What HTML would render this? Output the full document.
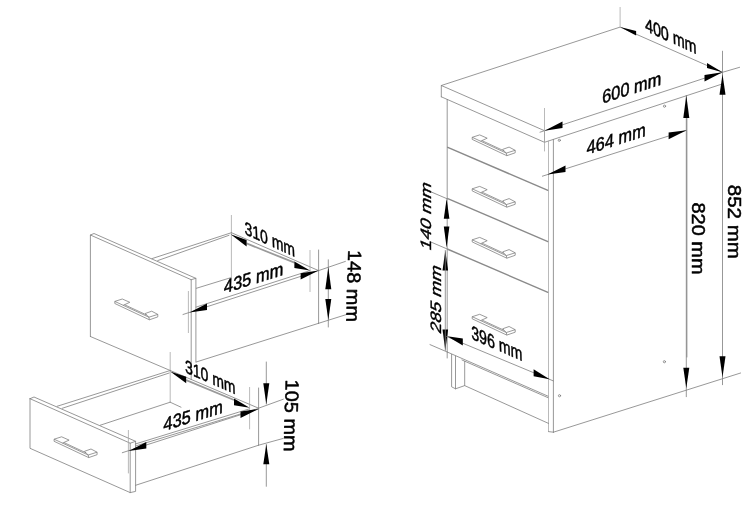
<!DOCTYPE html>
<html lang="en"><head><meta charset="utf-8"><title>Cabinet dimensions</title>
<style>
html,body{margin:0;padding:0;background:#fff;}
body{width:750px;height:513px;overflow:hidden;}
svg{display:block;will-change:transform}
.l{stroke:#7e7e7e;stroke-width:.8;fill:none;stroke-linecap:round;stroke-linejoin:round}
.b{stroke:#9a9a9a;stroke-width:1.8;fill:none}
.g{stroke:#a8a8a8;stroke-width:.8;fill:none}
.d{stroke:#8a8a8a;stroke-width:1.4;fill:none}
.h{stroke:#7a7a7a;stroke-width:.75;fill:none;stroke-linejoin:round}
.a{fill:#000;stroke:none}
text{font-family:"Liberation Sans",Arial,sans-serif;fill:#000;text-anchor:middle;stroke:#000;stroke-width:.5;stroke-linejoin:round}
</style></head><body>
<svg width="750" height="513" viewBox="0 0 750 513">
<rect width="750" height="513" fill="#fff"/>
<polyline class="l" points="90.4,336.5 90.4,235.0 191.2,279.7 191.2,379.5"/>
<polyline class="l" points="90.4,235.0 94.0,233.5 195.8,278.3 191.2,279.7"/>
<line class="l" x1="195.9" y1="278.3" x2="195.9" y2="362.0"/>
<line class="l" x1="90.4" y1="336.5" x2="170.2" y2="370.5"/>
<line class="g" x1="188.4" y1="291.0" x2="188.4" y2="333.0"/>
<line class="l" x1="152.0" y1="258.6" x2="231.4" y2="232.7"/>
<line class="l" x1="157.7" y1="260.6" x2="229.0" y2="235.3"/>
<line class="l" x1="196.3" y1="288.3" x2="231.4" y2="277.5"/>
<line class="g" x1="231.4" y1="215.0" x2="231.4" y2="277.5"/>
<line class="l" x1="231.4" y1="232.7" x2="318.6" y2="270.6"/>
<line class="b" x1="246.6" y1="243.4" x2="294.5" y2="262.7"/>
<line class="l" x1="196.1" y1="307.1" x2="310.0" y2="270.6"/>
<line class="l" x1="183.0" y1="314.5" x2="318.6" y2="270.6"/>
<line class="l" x1="318.6" y1="250.0" x2="318.6" y2="323.3"/>
<line class="g" x1="310.0" y1="250.0" x2="310.0" y2="292.0"/>
<line class="l" x1="196.2" y1="362.0" x2="318.6" y2="323.3"/>
<line class="l" x1="318.6" y1="323.3" x2="347.5" y2="314.2"/>
<line class="l" x1="318.6" y1="270.6" x2="345.4" y2="261.4"/>
<line class="l" x1="328.3" y1="259.8" x2="328.3" y2="327.0"/>
<polygon class="a" points="328.3,267.3 325.3,289.3 331.3,289.3"/>
<polygon class="a" points="328.3,320.0 325.3,299.0 331.3,299.0"/>
<polygon class="a" points="230.6,234.2 246.6,240.0 246.6,246.4"/>
<polygon class="a" points="310.0,270.4 294.4,261.6 294.4,268.0"/>
<polygon class="a" points="189.5,312.4 207.0,303.5 207.0,309.9"/>
<polygon class="a" points="318.6,270.6 300.6,273.2 300.6,279.6"/>
<polyline class="h" points="114.8,301.4 122.3,299.0 129.8,302.3 123.2,305.3"/>
<polyline class="h" points="148.9,317.2 145.2,313.5 151.7,311.2 157.8,314.4 148.9,317.2"/>
<polyline class="h" points="114.8,301.4 148.9,317.2 149.4,319.8 114.8,303.5 114.8,301.4"/>
<polyline class="h" points="157.8,314.4 157.8,316.9 149.4,319.8"/>
<polyline class="h" points="124.7,304.8 146.7,315.0"/>
<polyline class="l" points="30.0,398.7 30.0,448.3 130.2,492.6 130.2,443.2 30.0,398.7"/>
<polyline class="l" points="30.0,398.7 34.0,397.0 135.6,441.3 130.2,443.2"/>
<polyline class="l" points="135.6,441.3 135.6,491.4 130.2,492.6"/>
<line class="g" x1="128.4" y1="430.0" x2="128.4" y2="473.4"/>
<line class="l" x1="57.1" y1="406.3" x2="170.2" y2="370.5"/>
<line class="l" x1="62.2" y1="408.3" x2="169.2" y2="373.0"/>
<line class="l" x1="100.3" y1="425.2" x2="170.2" y2="402.2"/>
<line class="g" x1="170.2" y1="352.0" x2="170.2" y2="402.2"/>
<line class="l" x1="170.2" y1="402.2" x2="181.0" y2="407.2"/>
<line class="l" x1="170.2" y1="370.5" x2="258.6" y2="408.2"/>
<line class="b" x1="186.2" y1="380.2" x2="234.0" y2="400.0"/>
<line class="l" x1="135.3" y1="444.0" x2="249.6" y2="408.8"/>
<line class="l" x1="135.5" y1="446.0" x2="258.5" y2="408.5"/>
<line class="l" x1="122.3" y1="452.7" x2="258.5" y2="409.0"/>
<line class="l" x1="258.6" y1="388.0" x2="258.6" y2="445.0"/>
<line class="g" x1="249.6" y1="387.0" x2="249.6" y2="429.3"/>
<line class="l" x1="135.6" y1="485.3" x2="258.6" y2="445.2"/>
<line class="l" x1="258.6" y1="445.2" x2="283.3" y2="438.4"/>
<line class="l" x1="258.6" y1="408.2" x2="283.3" y2="399.2"/>
<line class="l" x1="266.3" y1="362.0" x2="266.3" y2="404.0"/>
<line class="l" x1="266.3" y1="444.5" x2="266.3" y2="486.3"/>
<polygon class="a" points="266.3,404.2 263.3,383.2 269.3,383.2"/>
<polygon class="a" points="266.3,444.3 263.3,464.3 269.3,464.3"/>
<polygon class="a" points="170.2,371.5 186.2,376.8 186.2,383.2"/>
<polygon class="a" points="249.6,407.8 234.0,398.6 234.0,405.2"/>
<polygon class="a" points="128.7,450.9 146.3,441.9 146.3,448.6"/>
<polygon class="a" points="258.5,409.0 240.5,411.5 240.5,418.1"/>
<polyline class="h" points="54.1,439.2 61.6,436.8 69.1,440.1 62.5,443.1"/>
<polyline class="h" points="88.2,455.0 84.5,451.3 91.0,449.0 97.1,452.2 88.2,455.0"/>
<polyline class="h" points="54.1,439.2 88.2,455.0 88.7,457.6 54.1,441.3 54.1,439.2"/>
<polyline class="h" points="97.1,452.2 97.1,454.7 88.7,457.6"/>
<polyline class="h" points="64.0,442.6 86.0,452.8"/>
<polyline class="l" points="441.3,96.8 441.3,85.5 620.1,27.1 722.5,72.3 544.5,130.7 441.3,85.5"/>
<polyline class="l" points="441.3,96.8 544.5,142.3 722.5,83.9"/>
<line class="l" x1="544.5" y1="130.7" x2="544.5" y2="142.3"/>
<line class="l" x1="447.2" y1="99.5" x2="447.2" y2="358.0"/>
<line class="d" x1="447.2" y1="147.1" x2="548.5" y2="190.7"/>
<line class="d" x1="447.2" y1="198.3" x2="548.5" y2="241.9"/>
<line class="d" x1="447.2" y1="249.0" x2="548.5" y2="292.6"/>
<line class="l" x1="447.2" y1="352.0" x2="548.5" y2="396.4"/>
<line class="l" x1="462.0" y1="360.0" x2="548.5" y2="397.9"/>
<line class="g" x1="548.5" y1="140.8" x2="548.5" y2="431.6"/>
<line class="l" x1="553.4" y1="139.5" x2="553.4" y2="432.2"/>
<line class="l" x1="548.5" y1="431.6" x2="553.4" y2="432.2"/>
<line class="l" x1="553.4" y1="432.2" x2="740.6" y2="373.0"/>
<circle class="l" cx="559.3" cy="140.3" r="1.1"/>
<circle class="l" cx="664.5" cy="106.2" r="1.1"/>
<circle class="l" cx="559.5" cy="395.7" r="1.1"/>
<circle class="l" cx="664.4" cy="361.7" r="1.1"/>
<polyline class="l" points="451.6,354.4 451.6,386.8 455.5,388.8 464.7,385.6 464.7,361.4"/>
<line class="l" x1="455.5" y1="356.2" x2="455.5" y2="388.8"/>
<line class="l" x1="464.7" y1="385.6" x2="548.5" y2="423.4"/>
<line class="l" x1="430.4" y1="191.6" x2="447.2" y2="198.8"/>
<line class="l" x1="430.4" y1="241.8" x2="447.2" y2="249.0"/>
<line class="l" x1="430.0" y1="344.6" x2="447.2" y2="352.0"/>
<polygon class="a" points="446.6,198.8 443.8,218.8 449.4,218.8"/>
<polygon class="a" points="446.6,247.6 443.8,226.6 449.4,226.6"/>
<polygon class="a" points="445.3,250.5 442.5,270.5 448.1,270.5"/>
<polygon class="a" points="445.3,350.5 442.5,329.5 448.1,329.5"/>
<line class="l" x1="445.3" y1="250.5" x2="445.3" y2="350.5"/>
<line class="l" x1="446.6" y1="336.5" x2="553.3" y2="380.9"/>
<polygon class="a" points="447.3,336.2 462.8,338.5 462.8,345.5"/>
<polygon class="a" points="549.6,379.3 533.6,369.2 533.6,376.2"/>
<line class="l" x1="542.4" y1="176.2" x2="686.6" y2="130.3"/>
<polygon class="a" points="547.5,174.4 565.5,165.4 565.5,172.1"/>
<polygon class="a" points="686.6,130.3 668.6,132.6 668.6,139.3"/>
<polygon class="a" points="544.5,130.7 562.5,121.4 562.5,128.1"/>
<polygon class="a" points="722.5,72.3 704.5,74.9 704.5,81.6"/>
<line class="l" x1="540.0" y1="132.2" x2="544.5" y2="130.7"/>
<polygon class="a" points="620.1,27.1 636.1,30.9 636.1,35.4"/>
<polygon class="a" points="722.5,72.3 707.0,63.0 707.0,68.0"/>
<line class="g" x1="620.1" y1="7.0" x2="620.1" y2="27.1"/>
<line class="g" x1="544.5" y1="108.0" x2="544.5" y2="151.4"/>
<line class="l" x1="722.5" y1="72.3" x2="739.6" y2="67.3"/>
<line class="l" x1="686.3" y1="95.4" x2="686.3" y2="396.7"/>
<line class="l" x1="686.9" y1="118.0" x2="686.9" y2="357.0"/>
<line class="l" x1="722.5" y1="51.2" x2="722.5" y2="384.7"/>
<polygon class="a" points="686.3,95.4 683.3,117.9 689.3,117.9"/>
<polygon class="a" points="686.3,388.3 683.3,367.8 689.3,367.8"/>
<polygon class="a" points="722.5,74.3 719.5,94.8 725.5,94.8"/>
<polygon class="a" points="722.5,377.3 719.5,356.3 725.5,356.3"/>
<polyline class="h" points="472.2,137.3 479.7,134.9 487.2,138.2 480.6,141.2"/>
<polyline class="h" points="506.3,153.1 502.6,149.4 509.1,147.1 515.2,150.3 506.3,153.1"/>
<polyline class="h" points="472.2,137.3 506.3,153.1 506.8,155.7 472.2,139.4 472.2,137.3"/>
<polyline class="h" points="515.2,150.3 515.2,152.8 506.8,155.7"/>
<polyline class="h" points="482.1,140.7 504.1,150.9"/>
<polyline class="h" points="472.2,188.8 479.7,186.4 487.2,189.7 480.6,192.7"/>
<polyline class="h" points="506.3,204.6 502.6,200.9 509.1,198.6 515.2,201.8 506.3,204.6"/>
<polyline class="h" points="472.2,188.8 506.3,204.6 506.8,207.2 472.2,190.9 472.2,188.8"/>
<polyline class="h" points="515.2,201.8 515.2,204.3 506.8,207.2"/>
<polyline class="h" points="482.1,192.2 504.1,202.4"/>
<polyline class="h" points="472.2,239.8 479.7,237.4 487.2,240.7 480.6,243.7"/>
<polyline class="h" points="506.3,255.6 502.6,251.9 509.1,249.6 515.2,252.8 506.3,255.6"/>
<polyline class="h" points="472.2,239.8 506.3,255.6 506.8,258.2 472.2,241.9 472.2,239.8"/>
<polyline class="h" points="515.2,252.8 515.2,255.3 506.8,258.2"/>
<polyline class="h" points="482.1,243.2 504.1,253.4"/>
<polyline class="h" points="472.2,316.7 479.7,314.3 487.2,317.6 480.6,320.6"/>
<polyline class="h" points="506.3,332.5 502.6,328.8 509.1,326.5 515.2,329.7 506.3,332.5"/>
<polyline class="h" points="472.2,316.7 506.3,332.5 506.8,335.1 472.2,318.8 472.2,316.7"/>
<polyline class="h" points="515.2,329.7 515.2,332.2 506.8,335.1"/>
<polyline class="h" points="482.1,320.1 504.1,330.3"/>
<text transform="matrix(0.7340 0.3362 0.0300 0.9700 270.0 245.6)" font-size="19">310 mm</text>
<text transform="matrix(0.8670 -0.2688 -0.0300 1.0000 253.5 284.3)" font-size="19">435 mm</text>
<text transform="matrix(0.7340 0.3230 0.0300 0.9700 210.5 383.3)" font-size="19">310 mm</text>
<text transform="matrix(0.8670 -0.2688 -0.0300 1.0000 193.0 422.0)" font-size="19">435 mm</text>
<text transform="matrix(-0.0300 1.0500 -1.0000 0.0000 347.2 286.0)" font-size="19">148 mm</text>
<text transform="matrix(-0.0300 1.0500 -1.0000 0.0000 284.7 415.6)" font-size="19">105 mm</text>
<text transform="matrix(0.8630 -0.2779 -0.0300 1.0000 631.5 94.2)" font-size="19">600 mm</text>
<text transform="matrix(0.8630 -0.2779 -0.0300 1.0000 616.0 145.3)" font-size="19">464 mm</text>
<text transform="matrix(0.7500 0.3412 0.0300 1.0000 671.0 42.4)" font-size="19">400 mm</text>
<text transform="matrix(0.7450 0.3248 0.0300 1.0200 497.0 350.0)" font-size="19">396 mm</text>
<text transform="matrix(0.0000 1.0500 -1.0000 0.0000 691.5 238.5)" font-size="19">820 mm</text>
<text transform="matrix(0.0000 1.0800 -1.0000 0.0000 728.2 221.8)" font-size="19">852 mm</text>
<text transform="matrix(0.0000 -0.9800 0.7900 0.3400 430.6 217.8)" font-size="19">140 mm</text>
<text transform="matrix(0.0000 -0.9800 0.7900 0.3400 440.8 300.8)" font-size="19">285 mm</text>
</svg>
</body></html>
